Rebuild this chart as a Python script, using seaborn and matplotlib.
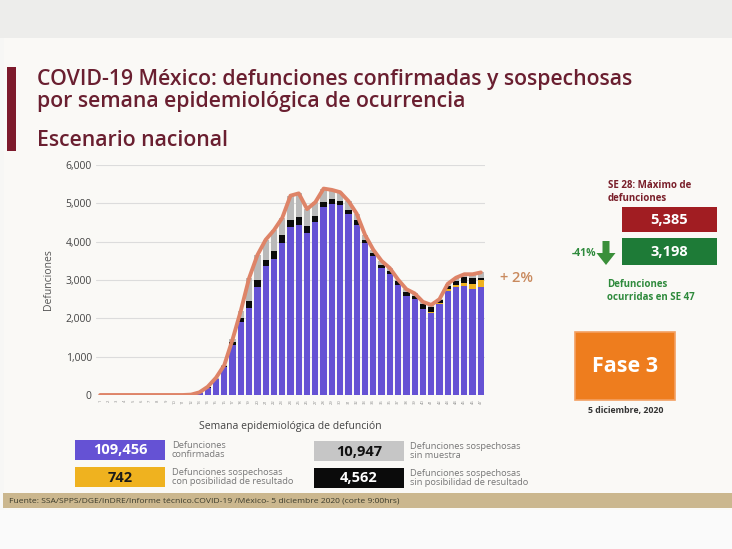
import numpy as np
import pandas as pd
import matplotlib
matplotlib.use("Agg")
import matplotlib.pyplot as plt
import seaborn as sns
from matplotlib.patches import Rectangle, FancyArrow

# ---------------- data ----------------
semanas = [str(i) for i in range(1, 48)]
confirmadas = [0, 0, 0, 0, 0, 0, 0, 0, 0, 0, 0, 10, 60, 190, 410, 720, 1310, 1910,
               2280, 2830, 3355, 3550, 3965, 4385, 4430, 4230, 4510, 4915, 4990, 4945,
               4720, 4445, 3965, 3620, 3310, 3155, 2875, 2590, 2500, 2240, 2150, 2370,
               2725, 2815, 2850, 2765, 2815]
con_posibilidad = [0] * 39 + [15, 20, 25, 35, 50, 75, 120, 190]
sin_posibilidad = [0, 0, 0, 0, 0, 0, 0, 0, 0, 0, 0, 0, 5, 10, 20, 30, 85, 95,
                   175, 175, 175, 200, 215, 175, 205, 170, 165, 130, 130, 120,
                   105, 115, 90, 85, 90, 85, 90, 85, 85, 110, 115, 85,
                   85, 105, 160, 160, 60]
sin_muestra = [0, 0, 0, 0, 0, 0, 0, 0, 0, 0, 0, 0, 5, 15, 20, 30, 55, 195,
               595, 645, 520, 550, 440, 640, 625, 450, 355, 340, 230, 225,
               235, 170, 125, 85, 100, 70, 45, 85, 65, 65, 65, 20,
               55, 90, 65, 105, 133]

leyenda_valores = ["109,456", "742", "10,947", "4,562"]
leyenda_textos = ["Defunciones\nconfirmadas",
                  "Defunciones sospechosas\ncon posibilidad de resultado",
                  "Defunciones sospechosas\nsin muestra",
                  "Defunciones sospechosas\nsin posibilidad de resultado"]
yticks = [0, 1000, 2000, 3000, 4000, 5000, 6000]

C_PURPLE = "#6552d4"
C_YELLOW = "#efb21f"
C_BLACK = "#0b0b0b"
C_GREY = "#b9b9b9"
C_LINE = "#de8468"

# ---------------- figure ----------------
sns.set_theme(style="white")
plt.rcParams['font.family'] = ['Open Sans', 'DejaVu Sans']

fig = plt.figure(figsize=(7.32, 5.49), dpi=100)
fig.patch.set_facecolor("#f7f7f5")

bg = fig.add_axes([0, 0, 1, 1], zorder=0)
bg.set_xlim(0, 732)
bg.set_ylim(549, 0)
bg.axis("off")
bg.add_patch(Rectangle((0, 0), 732, 38, color="#ededeb", lw=0))
bg.add_patch(Rectangle((4, 38), 728, 472, color="#faf9f6", lw=0))
bg.add_patch(Rectangle((0, 510), 732, 39, color="#fafafa", lw=0))

# title block
bg.add_patch(Rectangle((7, 67), 9, 84, color="#7d1a2c", lw=0))
bg.text(37, 79, "COVID-19 México: defunciones confirmadas y sospechosas",
        fontsize=15.3, color="#6a1f30", weight="semibold", va="center", ha="left")
bg.text(37, 101, "por semana epidemiológica de ocurrencia",
        fontsize=15.3, color="#6a1f30", weight="semibold", va="center", ha="left")
bg.text(37, 141, "Escenario nacional",
        fontsize=15.3, color="#6a1f30", weight="semibold", va="center", ha="left")

# ---------------- main chart ----------------
ax = fig.add_axes([96 / 732, 154 / 549, 389 / 732, 230 / 549], zorder=2)
ax.patch.set_alpha(0)

c1 = np.array(confirmadas)
c2 = c1 + np.array(con_posibilidad)
c3 = c2 + np.array(sin_posibilidad)
c4 = c3 + np.array(sin_muestra)

for vals, col in [(c4, C_GREY), (c3, C_BLACK), (c2, C_YELLOW), (c1, C_PURPLE)]:
    sns.barplot(x=semanas, y=vals, order=semanas, color=col, saturation=1,
                width=0.76, ax=ax, linewidth=0)

sns.lineplot(x=np.arange(len(semanas)), y=c4, color=C_LINE, lw=2.8, ax=ax,
             solid_capstyle="round", solid_joinstyle="round")

ax.set_xlim(-0.5, len(semanas) - 0.5)
ax.set_ylim(0, 6000)
ax.set_yticks(yticks)
ax.set_yticklabels([f"{v:,}" for v in yticks], fontsize=7.5, color="#444444")
ax.set_xticks(np.arange(len(semanas)))
ax.set_xticklabels(semanas, fontsize=3, rotation=90, color="#888888")
ax.tick_params(axis="both", length=0, pad=3)
ax.yaxis.grid(True, color="#dcdcdc", lw=0.8)
ax.set_axisbelow(True)
for s in ax.spines.values():
    s.set_visible(False)
ax.set_ylabel("Defunciones", fontsize=7.5, color="#555555", labelpad=8)
ax.set_xlabel("Semana epidemiológica de defunción", fontsize=7.5,
              color="#444444", labelpad=12)

ax.annotate("+ 2%", xy=(len(semanas) - 1, c4[-1]), xytext=(14, -4),
            textcoords="offset points", fontsize=10.5, color="#c98a5e",
            weight="semibold", va="center", ha="left")

# ---------------- legend boxes ----------------
boxes = [(75, 440, C_PURPLE, "white", 172),
         (75, 467, C_YELLOW, "#1a1a1a", 172),
         (314, 441, "#c6c6c6", "#111111", 410),
         (314, 468, C_BLACK, "white", 410)]
for (x0, y0, fc, tc, tx), val, lab in zip(boxes, leyenda_valores, leyenda_textos):
    bg.add_patch(Rectangle((x0, y0), 90, 20, color=fc, lw=0))
    bg.text(x0 + 45, y0 + 10.5, val, fontsize=10.5, weight="bold", color=tc,
            ha="center", va="center")
    bg.text(tx, y0 + 10, lab, fontsize=6.7, color="#777777", ha="left",
            va="center", linespacing=1.05)

# source band
bg.add_patch(Rectangle((3, 493), 729, 15, color="#cbb78e", lw=0))
bg.text(9, 500.5, "Fuente: SSA/SPPS/DGE/InDRE/Informe técnico.COVID-19 /México- 5 diciembre 2020 (corte 9:00hrs)",
        fontsize=6.1, color="#3a3a2a", ha="left", va="center")

# ---------------- right panel ----------------
bg.text(608, 192, "SE 28: Máximo de\ndefunciones", fontsize=7, weight="bold",
        color="#7a1f2a", ha="left", va="center", linespacing=1.15)
bg.add_patch(Rectangle((622, 207), 95, 25, color="#a11d22", lw=0))
bg.text(669.5, 219.5, "5,385", fontsize=10.5, weight="bold", color="white",
        ha="center", va="center")
bg.add_patch(Rectangle((622, 238), 95, 27, color="#1e7b37", lw=0))
bg.text(669.5, 251.5, "3,198", fontsize=10.5, weight="bold", color="white",
        ha="center", va="center")
bg.text(584, 253, "-41%", fontsize=7.5, weight="bold", color="#2e8a3c",
        ha="center", va="center")
bg.add_patch(FancyArrow(606, 241, 0, 24, width=7, head_width=19, head_length=12,
                        length_includes_head=True, color="#3a8f3a", lw=0))
bg.text(607, 291, "Defunciones\nocurridas en SE 47", fontsize=7, weight="bold",
        color="#2e8a3c", ha="left", va="center", linespacing=1.15)

bg.add_patch(Rectangle((575, 332), 100, 68, facecolor="#ee7d1e",
                       edgecolor="#f3a062", lw=1.2))
bg.text(625, 367, "Fase 3", fontsize=15.5, weight="bold", color="white",
        ha="center", va="center")
bg.text(626, 410, "5 diciembre, 2020", fontsize=6.3, weight="bold",
        color="#333333", ha="center", va="center")

fig.savefig("out.png", dpi=100, facecolor=fig.get_facecolor())
